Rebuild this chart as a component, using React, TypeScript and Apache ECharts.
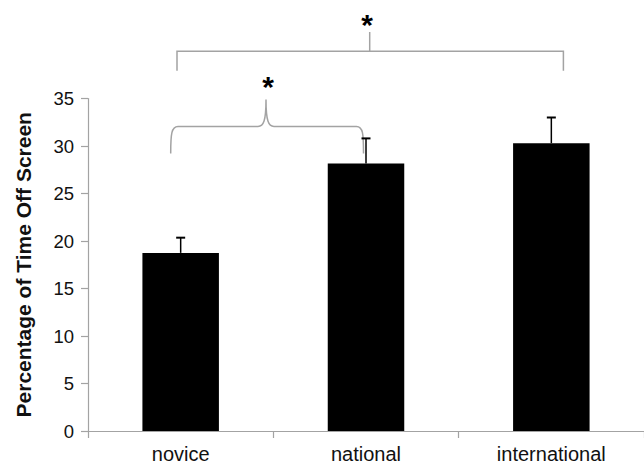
import React, { useEffect, useRef } from "react";
import * as echarts from "echarts";

const categories = ["novice", "national", "international"];
const means = [18.75, 28.15, 30.3];
const errors = [1.6, 2.65, 2.7];
const yTicks = { min: 0, max: 35, interval: 5 };
const axisName = "Percentage of Time Off Screen";
const starLabel = "*";

const FONT = "'Liberation Sans', Arial, Helvetica, sans-serif";
const GRAY = "#a3a3a3";

const bracePath =
  "M170.7,153.5 C170.7,134 171.5,126.5 178,126.5 L258,126.5 C263.5,126.5 266,121 266,99.5 C266,121 268.5,126.5 274,126.5 L356.5,126.5 C363,126.5 363.5,134 363.5,153.5";

let registered = false;

export default function App() {
  const ref = useRef<HTMLDivElement>(null);
  useEffect(() => {
    document.body.style.margin = "0";
    if (!registered) {
      echarts.graphic.registerShape("brace", echarts.graphic.extendPath(bracePath, {}) as any);
      registered = true;
    }
    const chart = echarts.init(ref.current!, null, { renderer: "svg" });
    chart.setOption({
      animation: false,
      backgroundColor: "#ffffff",
      grid: { left: 88, top: 98.5, width: 567, height: 333, containLabel: false },
      xAxis: {
        type: "category",
        data: categories,
        axisLine: { lineStyle: { color: GRAY, width: 1.2 } },
        axisTick: { show: true, length: 7, lineStyle: { color: GRAY, width: 1.2 } },
        axisLabel: { color: "#111", fontSize: 20, fontFamily: FONT, margin: 13 },
      },
      yAxis: {
        type: "value",
        min: yTicks.min,
        max: yTicks.max,
        interval: yTicks.interval,
        name: axisName,
        nameLocation: "middle",
        nameGap: 54,
        nameTextStyle: { color: "#111", fontSize: 21, fontWeight: "bold", fontFamily: FONT },
        axisLine: { show: true, lineStyle: { color: GRAY, width: 1.2 } },
        axisTick: { show: true, length: 7, lineStyle: { color: GRAY, width: 1.2 } },
        axisLabel: { color: "#111", fontSize: 18.5, fontFamily: FONT, margin: 14 },
        splitLine: { show: false },
      },
      series: [
        {
          type: "bar",
          data: means,
          barWidth: 76.5,
          itemStyle: { color: "#000000" },
        },
        {
          type: "custom",
          data: means.map((m, i) => [i, m, m + errors[i]]),
          renderItem: (params: any, api: any) => {
            const x = api.value(0);
            const p0 = api.coord([x, api.value(1)]);
            const p1 = api.coord([x, api.value(2)]);
            const half = 4.5;
            return {
              type: "group",
              children: [
                {
                  type: "line",
                  shape: { x1: p0[0], y1: p0[1], x2: p1[0], y2: p1[1] },
                  style: { stroke: "#000", lineWidth: 1.5 },
                },
                {
                  type: "line",
                  shape: { x1: p1[0] - half, y1: p1[1], x2: p1[0] + half, y2: p1[1] },
                  style: { stroke: "#000", lineWidth: 2 },
                },
              ],
            };
          },
          z: 5,
        },
      ],
      graphic: [
        {
          type: "polyline",
          shape: { points: [[177, 70.7], [177, 51.3], [563.4, 51.3], [563.4, 70.7]] },
          style: { stroke: GRAY, lineWidth: 1.5, fill: "none" },
        },
        {
          type: "line",
          shape: { x1: 369.7, y1: 51.3, x2: 369.7, y2: 32 },
          style: { stroke: GRAY, lineWidth: 1.5 },
        },
        {
          type: "brace",
          x: 0,
          y: 0,
          style: { stroke: GRAY, lineWidth: 1.5, fill: "none" },
        },
        {
          type: "text",
          x: 367,
          y: 24,
          style: {
            text: starLabel,
            fontSize: 30,
            fontWeight: "bold",
            fontFamily: FONT,
            fill: "#000",
            textAlign: "center",
            textVerticalAlign: "middle",
          },
        },
        {
          type: "text",
          x: 268,
          y: 86,
          style: {
            text: starLabel,
            fontSize: 30,
            fontWeight: "bold",
            fontFamily: FONT,
            fill: "#000",
            textAlign: "center",
            textVerticalAlign: "middle",
          },
        },
      ],
    });
    return () => chart.dispose();
  }, []);
  return <div ref={ref} style={{ width: 644, height: 464 }} />;
}
